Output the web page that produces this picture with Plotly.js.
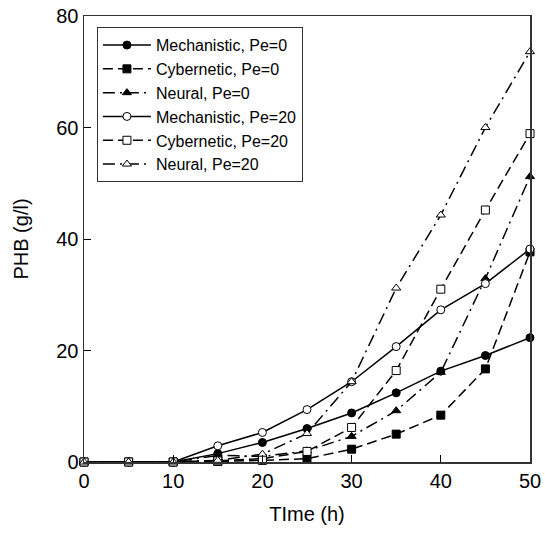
<!DOCTYPE html>
<html>
<head>
<meta charset="utf-8">
<script src="https://cdn.plot.ly/plotly-3.0.1.min.js"></script>
<style>html,body{margin:0;padding:0;background:#fff;}#chart{width:545px;height:536px;}</style>
</head>
<body>
<div id="chart"></div>
<script>
const time = [0, 5, 10, 15, 20, 25, 30, 35, 40, 45, 50];
const mechPe0 = [0, 0, 0, 1.5, 3.5, 6.0, 8.8, 12.4, 16.3, 19.1, 22.3];
const cybPe0 = [0, 0, 0, 0.1, 0.3, 0.6, 2.3, 5.0, 8.4, 16.7, 37.7];
const neurPe0 = [0, 0, 0, 1.2, 1.0, 2.0, 4.6, 9.2, 16.1, 32.9, 51.2];
const mechPe20 = [0, 0, 0, 2.9, 5.3, 9.4, 14.4, 20.7, 27.3, 32.0, 38.2];
const cybPe20 = [0, 0, 0, 0.2, 0.6, 1.9, 6.2, 16.4, 31.0, 45.2, 58.9];
const neurPe20 = [0, 0, 0, 0.3, 1.4, 5.1, 14.4, 31.2, 44.3, 60.0, 73.6];
const names = ["Mechanistic, Pe=0", "Cybernetic, Pe=0", "Neural, Pe=0",
               "Mechanistic, Pe=20", "Cybernetic, Pe=20", "Neural, Pe=20"];

const solid = "solid", dashed = "10px,5px", dashdot = "12px,5px,2px,5px";
function tr(y, name, dash, symbol, filled) {
  return {
    x: time, y: y, name: name, type: "scatter", mode: "lines+markers",
    cliponaxis: false,
    line: {color: "#000", width: 1.5, dash: dash},
    marker: {symbol: symbol, size: 8, color: filled ? "#000" : "#fff",
             line: {color: "#000", width: 1}}
  };
}
const data = [
  tr(mechPe0, names[0], solid, "circle", true),
  tr(cybPe0, names[1], dashed, "square", true),
  tr(neurPe0, names[2], dashdot, "triangle-up", true),
  tr(mechPe20, names[3], solid, "circle", false),
  tr(cybPe20, names[4], dashed, "square", false),
  tr(neurPe20, names[5], dashdot, "triangle-up", false)
];
const layout = {
  width: 545, height: 536,
  margin: {l: 84, r: 15, t: 16, b: 74},
  paper_bgcolor: "#fff", plot_bgcolor: "#fff",
  font: {family: "Liberation Sans, Arial, sans-serif", color: "#000", size: 20},
  showlegend: true,
  legend: {x: 0.029, y: 0.975, xanchor: "left", yanchor: "top",
           bgcolor: "#fff", bordercolor: "#333", borderwidth: 1,
           font: {size: 16}, tracegroupgap: 0, itemwidth: 48},
  xaxis: {range: [0, 50], tickvals: [0, 10, 20, 30, 40, 50],
          ticks: "inside", ticklen: 7, tickcolor: "#000", tickwidth: 1,
          showline: true, linecolor: "#333", linewidth: 1.5, mirror: true,
          showgrid: false, zeroline: false,
          title: {text: "TIme (h)", font: {size: 20}, standoff: 16}},
  yaxis: {range: [0, 80], tickvals: [0, 20, 40, 60, 80],
          ticks: "inside", ticklen: 7, tickcolor: "#000", tickwidth: 1,
          showline: true, linecolor: "#333", linewidth: 1.5, mirror: true,
          showgrid: false, zeroline: false,
          title: {text: "PHB (g/l)", font: {size: 20}, standoff: 22}}
};
Plotly.newPlot("chart", data, layout, {staticPlot: true});
</script>
</body>
</html>
